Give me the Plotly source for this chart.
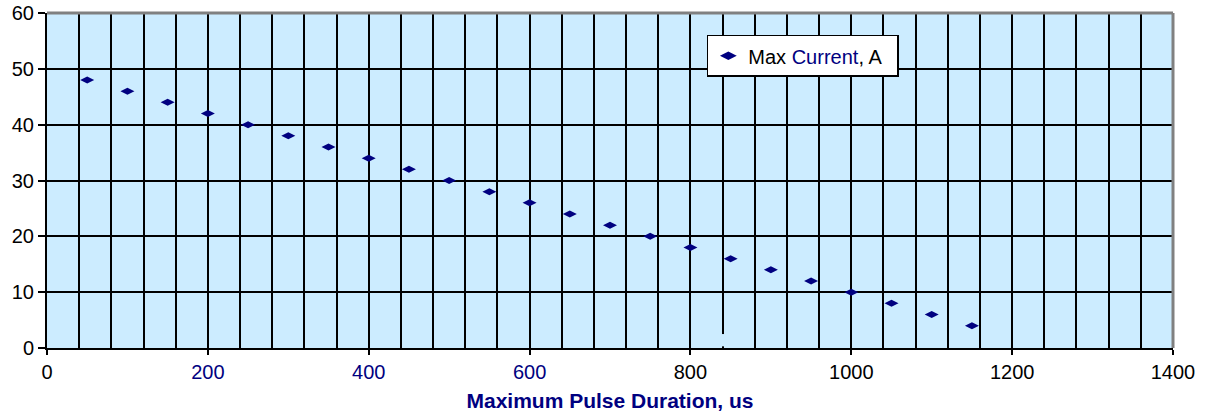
import plotly.graph_objects as go

# ---- data ----
pulse_duration_us = [50, 100, 150, 200, 250, 300, 350, 400, 450, 500, 550, 600,
                     650, 700, 750, 800, 850, 900, 950, 1000, 1050, 1100, 1150]
max_current_a = [48, 46, 44, 42, 40, 38, 36, 34, 32, 30, 28, 26,
                 24, 22, 20, 18, 16, 14, 12, 10, 8, 6, 4]

x_tick_vals = [0, 200, 400, 600, 800, 1000, 1200, 1400]
x_tick_labels = ["0", "200", "400", "600", "800", "1000", "1200", "1400"]
x_tick_colors = ["black", "#000080", "#000080", "#000080", "black", "black", "black", "black"]
y_tick_vals = [0, 10, 20, 30, 40, 50, 60]

NAVY = "#000080"
BG = "#CCECFF"
FONT = "Liberation Sans, Arial, sans-serif"

ticktext = [f'<span style="color:{c}">{t}</span>' for t, c in zip(x_tick_labels, x_tick_colors)]

fig = go.Figure()
fig.add_trace(go.Scatter(
    x=pulse_duration_us, y=max_current_a, mode="markers",
    name='Max <span style="color:#000080">Current</span>, A  ',
    marker=dict(symbol="diamond-wide", size=10, color=NAVY, line=dict(width=0)),
    showlegend=True,
))

fig.update_layout(
    width=1208, height=412,
    margin=dict(l=47, r=35, t=13, b=64, autoexpand=False),
    paper_bgcolor="white", plot_bgcolor=BG,
    font=dict(family=FONT, size=20, color="black"),
    showlegend=True,
    legend=dict(
        x=0.586, y=0.935, xanchor="left", yanchor="top",
        bgcolor="white", bordercolor="black", borderwidth=1.5,
        font=dict(family=FONT, size=20, color="black"),
        itemsizing="constant", itemwidth=30,
        tracegroupgap=0,
    ),
    xaxis=dict(
        range=[0, 1400], tickmode="array", tickvals=x_tick_vals, ticktext=ticktext,
        showgrid=False, zeroline=False, automargin=False,
        showline=True, linecolor="black", linewidth=2,
        ticks="outside", ticklen=5, tickwidth=2, tickcolor="black",
        tickfont=dict(family=FONT, size=20),
        title=dict(text="<b>Maximum Pulse Duration, us</b>",
                   font=dict(family=FONT, size=21, color=NAVY), standoff=11),
        minor=dict(dtick=40, tick0=0, showgrid=True, gridcolor="black", gridwidth=2, ticks=""),
    ),
    yaxis=dict(
        range=[0, 60], tickmode="array", tickvals=y_tick_vals,
        showgrid=True, gridcolor="black", gridwidth=2, zeroline=False, automargin=False,
        showline=True, linecolor="black", linewidth=2,
        ticks="outside", ticklen=7, tickwidth=2, tickcolor="black",
        tickfont=dict(family=FONT, size=20),
    ),
)

# gray border on top and right of the plot area
fig.add_shape(type="line", xref="paper", yref="paper", x0=0, x1=1, y0=1, y1=1,
              line=dict(color="#808080", width=3))
fig.add_shape(type="line", xref="paper", yref="paper", x0=1, x1=1, y0=0, y1=1,
              line=dict(color="#808080", width=3))
# the gridline at 840 stops short of the axis in the reference
fig.add_shape(type="line", xref="x", yref="y", x0=840, x1=840, y0=0.3, y1=2.5,
              line=dict(color=BG, width=4), layer="above")

fig.write_html(
    "out.html",
    config={"displayModeBar": False},
    post_script="document.body.style.margin='0';document.body.style.overflow='hidden';",
)
